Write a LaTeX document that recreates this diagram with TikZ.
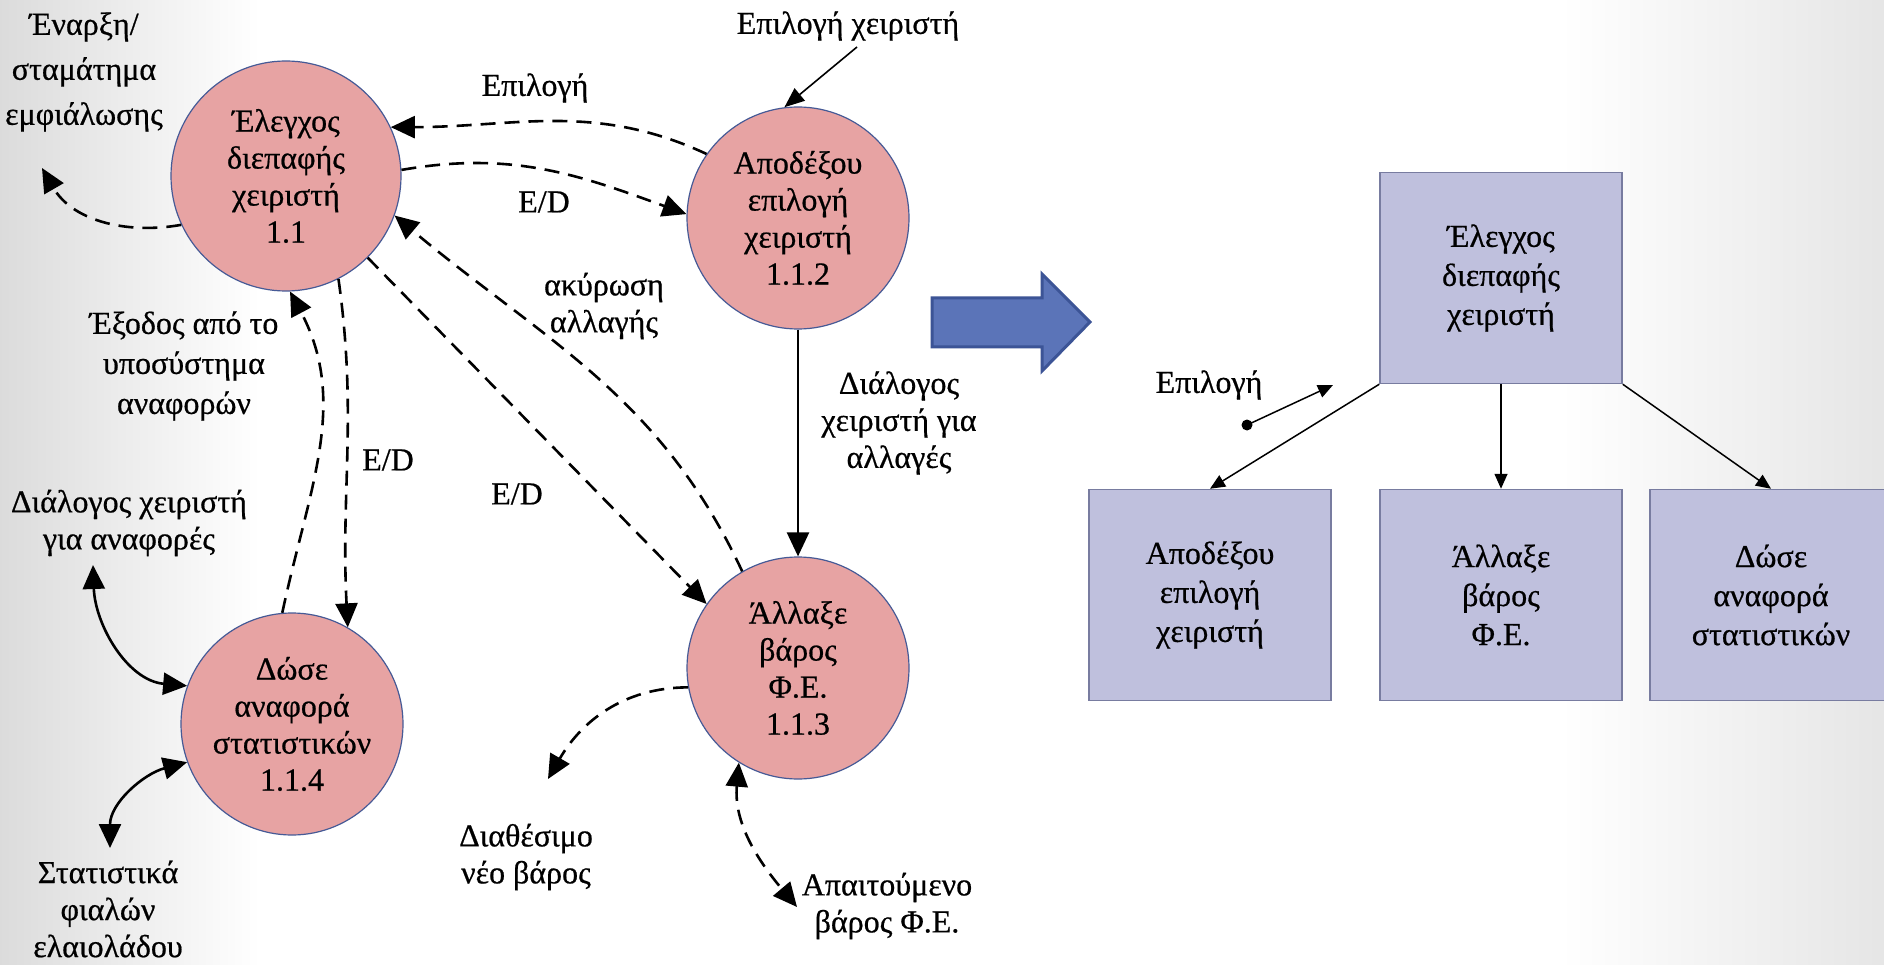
\documentclass[tikz,border=0pt]{standalone}
\usepackage{fontspec}
\setmainfont[FakeBold=0.6]{Liberation Serif}
\usetikzlibrary{arrows.meta}

\definecolor{bubble}{RGB}{231,163,163}
\definecolor{bubbleline}{RGB}{70,90,150}
\definecolor{boxfill}{RGB}{191,192,221}
\definecolor{boxline}{RGB}{120,124,160}
\definecolor{bigarrow}{RGB}{91,116,184}
\definecolor{bigarrowline}{RGB}{60,84,150}

\begin{document}
\begin{tikzpicture}[x=1pt,y=1pt,
  every node/.style={font=\fontsize{32}{37}\selectfont, align=center, inner sep=0pt},
  proc/.style={circle, fill=bubble, draw=bubbleline, line width=1.2pt, minimum size=222pt},
  modbox/.style={rectangle, fill=boxfill, draw=boxline, line width=1.5pt,
                 minimum width=242pt, minimum height=211pt, font=\fontsize{32}{39}\selectfont},
  dflow/.style={line width=2.6pt, dash pattern=on 15pt off 9pt, -{Triangle[length=24pt,width=22pt]}},
  dflowboth/.style={line width=2.6pt, dash pattern=on 15pt off 9pt,
                    {Triangle[length=24pt,width=22pt]}-{Triangle[length=24pt,width=22pt]}},
  sflow/.style={line width=2.4pt, -{Triangle[length=24pt,width=22pt]}},
  sflowboth/.style={line width=2.6pt,
                    {Triangle[length=24pt,width=22pt]}-{Triangle[length=24pt,width=22pt]}},
  thinflow/.style={line width=1.6pt, -{Triangle[length=20pt,width=16pt]}},
  treeflow/.style={line width=1.5pt, -{Triangle[length=15pt,width=13pt]}}
]
% page and background
\useasboundingbox (0,0) rectangle (1884,-965);
\clip (0,0) rectangle (1884,-965);
\fill[white] (0,0) rectangle (1884,-965);
\shade[left color=black!14, right color=white] (0,0) rectangle (260,-965);
\shade[left color=white, right color=black!10] (1560,0) rectangle (1884,-965);

% ---------- data flow diagram ----------
\node[proc, minimum size=230pt] (c11) at (286,-176) {Έλεγχος\\διεπαφής\\χειριστή\\1.1};
\node[proc] (c112) at (798,-218) {Αποδέξου\\επιλογή\\χειριστή\\1.1.2};
\node[proc] (c113) at (798,-668) {Άλλαξε\\βάρος\\Φ.Ε.\\1.1.3};
\node[proc] (c114) at (292,-724) {Δώσε\\αναφορά\\στατιστικών\\1.1.4};

\node[font=\fontsize{32}{45}\selectfont] (lstart) at (84,-72) {Έναρξη/\\σταμάτημα\\εμφιάλωσης};
\node (lopsel) at (848,-26) {Επιλογή χειριστή};
\node (lsel)   at (535,-88) {Επιλογή};
\node (led1)   at (544,-202) {E/D};
\node (lcancel) at (604,-306) {ακύρωση\\αλλαγής};
\node (led2)   at (517,-494) {E/D};
\node (ldlgch) at (899,-423) {Διάλογος\\χειριστή για\\αλλαγές};
\node[font=\fontsize{32}{40}\selectfont] (lexit) at (184,-366) {Έξοδος από το\\υποσύστημα\\αναφορών};
\node (led3)   at (388,-460) {E/D};
\node (ldlgrep) at (129,-523) {Διάλογος χειριστή\\για αναφορές};
\node (lstats) at (108,-909) {Στατιστικά\\φιαλών\\ελαιολάδου};
\node (lnew)   at (526,-857) {Διαθέσιμο\\νέο βάρος};
\node (lreq)   at (887,-906) {Απαιτούμενο\\βάρος Φ.Ε.};

\coordinate (startTip) at (42,-168);
\coordinate (selSrc)   at (857,-47);
\coordinate (repDlg)   at (93,-565);
\coordinate (statTip)  at (110,-848);
\coordinate (newTip)   at (548,-779);
\coordinate (reqTip)   at (797,-907);

\draw[dflow] (c11.205) to[out=190,in=-60] (startTip);
\draw[thinflow] (selSrc) -- (c112.97);
\draw[dflow] (c112.145) to[out=155,in=0] (c11.25);
\draw[dflow] (c11.3) to[out=10,in=160] (c112.178);
\draw[dflow] (c113.120) to[out=115,in=-40] (c11.-20);
\draw[dflow] (c11.-45) -- (c113.145);
\draw[sflow] (c112.south) -- (c113.north);
\draw[dflow] (c114.95) to[out=78,in=-62] (c11.-88);
\draw[dflow] (c11.-63) to[out=-82,in=93] (c114.60);
\draw[sflowboth] (repDlg) to[out=-88,in=175] (c114.160);
\draw[sflowboth] (c114.200) to[out=195,in=90] (statTip);
\draw[dflow] (c113.190) to[out=180,in=60] (newTip);
\draw[dflowboth] (c113.238) to[out=-95,in=130] (reqTip);

% ---------- transition arrow ----------
\draw[fill=bigarrow, draw=bigarrowline, line width=3pt, line join=miter]
  (932,-298) -- (1042,-298) -- (1042,-274) -- (1090,-322) -- (1042,-371)
  -- (1042,-347) -- (932,-347) -- cycle;

% ---------- structure chart ----------
\node[modbox] (T)  at (1501,-278) {Έλεγχος\\διεπαφής\\χειριστή};
\node[modbox] (B1) at (1210,-595) {Αποδέξου\\επιλογή\\χειριστή};
\node[modbox] (B2) at (1501,-595) {Άλλαξε\\βάρος\\Φ.Ε.};
\node[modbox] (B3) at (1771,-595) {Δώσε\\αναφορά\\στατιστικών};

\draw[treeflow] (T.south west) -- (B1.north);
\draw[treeflow] (T.south) -- (B2.north);
\draw[treeflow] (T.south east) -- (B3.north);

\node (lcouple) at (1209,-385) {Επιλογή};
\coordinate (coupleDot) at (1247,-425);
\coordinate (coupleTip) at (1333,-385);
\fill (coupleDot) circle (5.5);
\draw[treeflow] (coupleDot) -- (coupleTip);
\end{tikzpicture}
\end{document}
